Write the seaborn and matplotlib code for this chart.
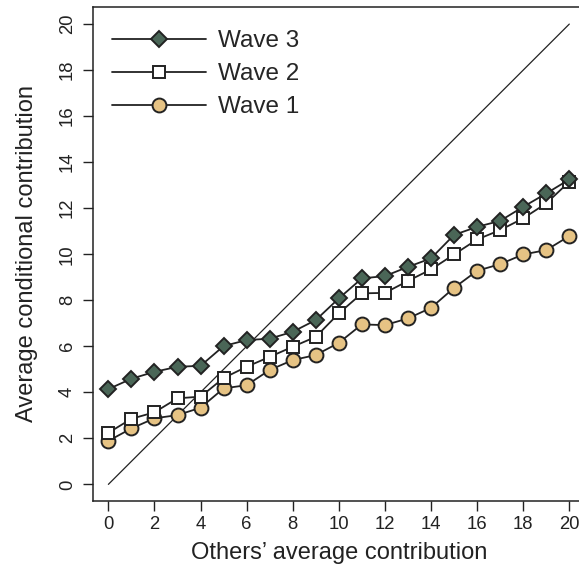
import matplotlib
matplotlib.use("Agg")
import matplotlib.pyplot as plt
import seaborn as sns

others = list(range(21))
wave3 = [4.14, 4.59, 4.89, 5.11, 5.15, 6.01, 6.27, 6.33, 6.63, 7.14, 8.08, 8.95,
         9.05, 9.45, 9.82, 10.84, 11.19, 11.45, 12.06, 12.64, 13.25]
wave2 = [2.24, 2.85, 3.13, 3.74, 3.81, 4.62, 5.11, 5.54, 5.98, 6.41, 7.43, 8.30,
         8.32, 8.84, 9.34, 9.99, 10.64, 11.05, 11.56, 12.21, 13.15]
wave1 = [1.89, 2.43, 2.87, 3.01, 3.33, 4.17, 4.31, 4.97, 5.40, 5.62, 6.15, 6.95,
         6.92, 7.21, 7.67, 8.54, 9.28, 9.57, 9.99, 10.18, 10.79]
diag = [0, 20]
xticks = list(range(0, 21, 2))
yticks = list(range(0, 21, 2))

sns.set_theme(style="ticks")
plt.rcParams['font.family'] = ['Liberation Sans', 'DejaVu Sans']

ink = "#222222"
fig = plt.figure(figsize=(5.79, 5.65), dpi=100)
ax = fig.add_axes([0.1601, 0.1138, 0.851, 0.8733])

sns.lineplot(x=diag, y=diag, ax=ax, color=ink, linewidth=0.9, legend=False)
sns.lineplot(x=others, y=wave1, ax=ax, color=ink, linewidth=1.3, marker='o',
             markersize=10, markerfacecolor="#e6c384", markeredgecolor=ink,
             markeredgewidth=1.4, label="Wave 1")
sns.lineplot(x=others, y=wave2, ax=ax, color=ink, linewidth=1.3, marker='s',
             markersize=9.2, markerfacecolor="white", markeredgecolor=ink,
             markeredgewidth=1.4, label="Wave 2")
sns.lineplot(x=others, y=wave3, ax=ax, color=ink, linewidth=1.3, marker='D',
             markersize=8.6, markerfacecolor="#4a6657", markeredgecolor=ink,
             markeredgewidth=1.4, label="Wave 3")

ax.set_xlim(-0.68, 20.70)
ax.set_ylim(-0.71, 20.73)
ax.set_xticks(xticks)
ax.set_yticks(yticks)
ax.set_xticklabels([str(t) for t in xticks])
ax.set_yticklabels([str(t) for t in yticks], rotation=90, va='center')
ax.tick_params(axis='both', direction='out', length=7.2, width=1.0, color=ink,
               labelsize=13.3, labelcolor=ink)
ax.tick_params(axis='x', pad=4)
ax.tick_params(axis='y', pad=5)
for side in ['left', 'bottom', 'top']:
    ax.spines[side].set_visible(True)
    ax.spines[side].set_linewidth(1.1)
    ax.spines[side].set_color(ink)
ax.spines['right'].set_visible(False)

ax.set_xlabel("Others’ average contribution", fontsize=17, color=ink, labelpad=6)
ax.set_ylabel("Average conditional contribution", fontsize=17, color=ink, labelpad=15)

handles, labels = ax.get_legend_handles_labels()
order = [labels.index(l) for l in ["Wave 3", "Wave 2", "Wave 1"]]
ax.legend([handles[i] for i in order], [labels[i] for i in order],
          loc='upper left', bbox_to_anchor=(0.03, 0.963), frameon=False,
          fontsize=17.5, handlelength=3.85, handletextpad=0.5,
          labelspacing=0.45, borderaxespad=0.0, borderpad=0.2)

fig.savefig("out.png", dpi=100)
